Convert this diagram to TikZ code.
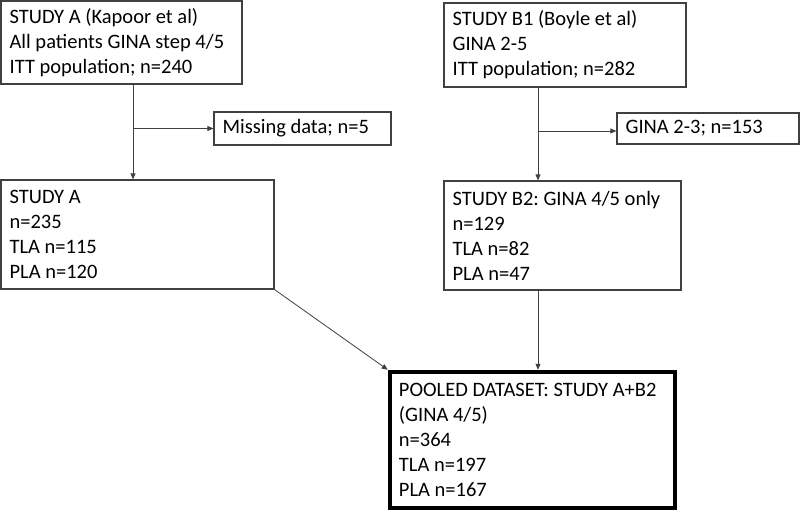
\documentclass[tikz,border=0pt]{standalone}
\usepackage{fontspec}
\setmainfont{Carlito}
\usetikzlibrary{arrows.meta}
\definecolor{ln}{HTML}{404040}
\tikzset{
  box/.style={draw=ln, line width=1.2pt, rectangle, inner sep=0pt, anchor=center},
  txt/.style={align=left, inner sep=0pt, anchor=west, xshift=9pt,
    font=\frenchspacing\fontsize{20.5}{25}\selectfont},
  arr/.style={draw=ln, line width=0.8pt, -{Triangle[length=6pt,width=5pt]}}
}
\begin{document}
\begin{tikzpicture}[x=1pt,y=-1pt]
\useasboundingbox (0,0) rectangle (800,511);
\node[box, minimum width=241pt, minimum height=83pt] (A) at (121.5,42.5) {};
\node[txt] (tA) at (A.west) {STUDY A (Kapoor et al)\\All patients GINA step 4/5\\ITT population; n=240};
\node[box, minimum width=177pt, minimum height=33pt] (M) at (302.5,128.5) {};
\node[txt] (tM) at (M.west) {Missing data; n=5};
\node[box, minimum width=242pt, minimum height=84pt] (B1) at (565,45) {};
\node[txt] (tB1) at (B1.west) {STUDY B1 (Boyle et al)\\GINA 2-5\\ITT population; n=282};
\node[box, minimum width=182pt, minimum height=31pt] (G) at (708,128.5) {};
\node[txt] (tG) at (G.west) {GINA 2-3; n=153};
\node[box, minimum width=273pt, minimum height=109pt] (SA) at (137.5,234.5) {};
\node[txt] (tSA) at (SA.west) {STUDY A\\n=235\\TLA n=115\\PLA n=120};
\node[box, minimum width=237pt, minimum height=109pt] (B2) at (562.5,235.5) {};
\node[txt] (tB2) at (B2.west) {STUDY B2: GINA 4/5 only\\n=129\\TLA n=82\\PLA n=47};
\node[box, line width=4.5pt, draw=black, minimum width=285pt, minimum height=136pt] (P) at (532.5,440) {};
\node[txt, xshift=2pt] (tP) at (P.west) {POOLED DATASET: STUDY A+B2\\(GINA 4/5)\\n=364\\TLA n=197\\PLA n=167};
\coordinate (ca) at (133,128.5);
\coordinate (cb) at (538,131);
\draw[arr] (A.south -| ca) -- (SA.north -| ca);
\draw[arr] (ca) -- (M.west);
\draw[arr] (B1.south -| cb) -- (B2.north -| cb);
\draw[arr] (cb) -- (G.west |- cb);
\draw[arr] (B2.south -| cb) -- (P.north -| cb);
\draw[arr] (SA.south east) -- (P.north west);
\end{tikzpicture}
\end{document}
